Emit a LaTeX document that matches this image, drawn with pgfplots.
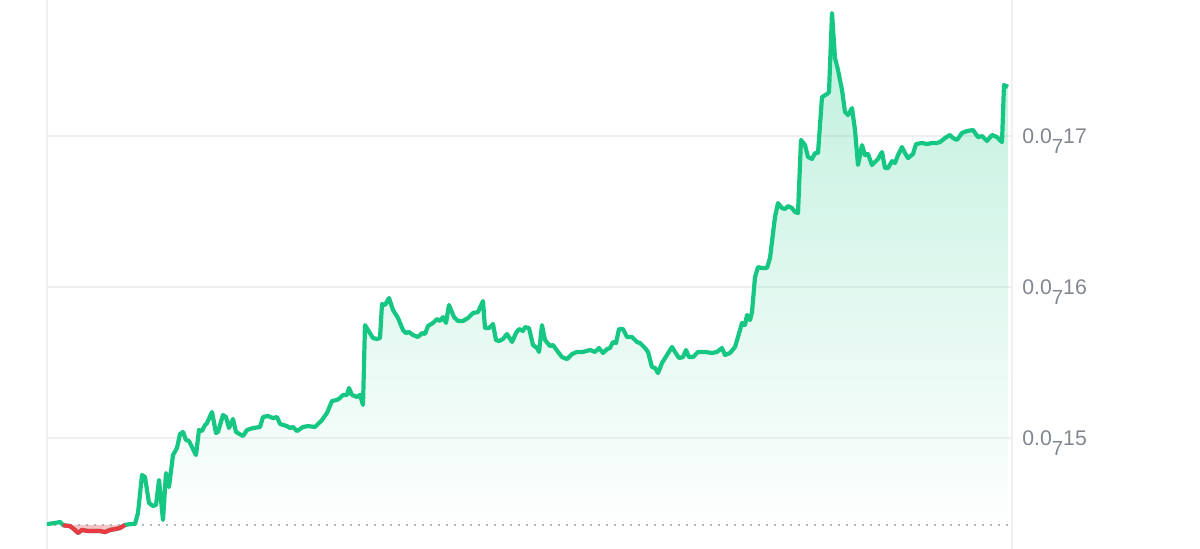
\documentclass[border=0pt]{standalone}
\usepackage{pgfplots}
\pgfplotsset{compat=1.18}
\usepackage{pgfplotstable}
\usepackage{fontspec}
\setmainfont{Liberation Sans}
\definecolor{upgreen}{HTML}{16C784}
\definecolor{downred}{HTML}{EA3943}
\definecolor{gridgray}{HTML}{EFEFEF}
\definecolor{vgray}{HTML}{F0F0F0}
\definecolor{labelgray}{HTML}{80878F}
\definecolor{dotgray}{HTML}{9AA0A8}

\pgfplotstableread{
x y
47 14.430
55 14.437
60 14.444
63 14.424
65 14.420
70 14.417
75 14.391
78 14.371
82 14.391
88 14.384
95 14.384
100 14.384
105 14.377
110 14.391
115 14.397
120 14.404
125 14.424
130 14.430
135 14.430
138 14.503
142 14.755
145 14.742
149 14.570
153 14.550
156 14.556
159 14.722
163 14.457
166 14.768
169 14.675
173 14.887
177 14.934
180 15.026
183 15.040
186 14.987
189 14.980
196 14.887
199 15.053
202 15.046
205 15.086
207 15.099
212 15.172
216 15.033
218 15.040
223 15.152
226 15.139
229 15.066
233 15.126
236 15.040
243 15.013
247 15.053
253 15.066
260 15.073
263 15.139
268 15.146
273 15.132
277 15.139
280 15.093
287 15.079
290 15.066
293 15.073
297 15.046
303 15.073
308 15.079
315 15.073
322 15.119
327 15.166
332 15.245
337 15.252
340 15.265
343 15.285
347 15.285
349 15.331
352 15.285
357 15.272
360 15.285
363 15.219
365 15.748
368 15.715
373 15.662
377 15.656
380 15.662
382 15.887
385 15.881
389 15.927
393 15.848
398 15.795
403 15.715
406 15.695
409 15.702
413 15.682
418 15.669
422 15.695
425 15.689
428 15.742
433 15.762
437 15.788
440 15.775
443 15.801
446 15.762
449 15.881
454 15.801
458 15.775
463 15.775
468 15.795
473 15.828
478 15.834
483 15.907
485 15.728
489 15.728
493 15.755
496 15.649
499 15.642
503 15.656
507 15.689
512 15.636
516 15.695
519 15.722
523 15.709
525 15.735
529 15.728
533 15.616
537 15.596
539 15.570
542 15.748
545 15.649
550 15.609
553 15.616
558 15.570
562 15.536
567 15.523
572 15.556
577 15.570
583 15.570
590 15.583
595 15.570
599 15.596
603 15.563
607 15.589
610 15.596
613 15.636
616 15.629
619 15.722
623 15.722
627 15.669
632 15.669
637 15.636
640 15.629
645 15.596
648 15.570
652 15.470
655 15.464
658 15.430
662 15.497
667 15.550
672 15.603
675 15.570
679 15.530
683 15.536
686 15.583
689 15.536
693 15.536
698 15.570
705 15.570
712 15.563
717 15.570
722 15.596
725 15.550
730 15.563
735 15.603
738 15.669
742 15.762
745 15.748
747 15.815
750 15.781
752 15.834
755 16.066
758 16.132
762 16.126
767 16.126
770 16.192
775 16.464
778 16.556
782 16.523
785 16.517
788 16.536
792 16.523
795 16.497
798 16.490
801 16.974
805 16.940
808 16.861
812 16.848
815 16.887
818 16.887
822 17.258
827 17.278
829 17.291
832 17.815
835 17.517
838 17.437
842 17.305
845 17.159
848 17.139
852 17.185
855 17.040
858 16.808
862 16.940
865 16.874
868 16.881
872 16.808
875 16.828
878 16.848
882 16.894
885 16.788
888 16.788
892 16.834
895 16.821
898 16.874
902 16.927
905 16.887
908 16.854
913 16.881
916 16.947
922 16.954
927 16.947
932 16.954
937 16.954
940 16.960
945 16.987
950 17.007
953 16.987
957 16.974
962 17.020
967 17.033
973 17.040
978 16.993
982 17.000
987 16.967
992 17.007
997 16.993
1002 16.960
1004 17.338
1008 17.325
}\pricedata

\pgfplotstableread{
x y
63 14.424
65 14.420
70 14.417
75 14.391
78 14.371
82 14.391
88 14.384
95 14.384
100 14.384
105 14.377
110 14.391
115 14.397
120 14.404
125 14.424
}\reddata

\newcommand{\lab}[1]{0.0\raisebox{-5.2pt}[0pt][0pt]{\fontsize{10.2pt}{10pt}\selectfont 7}#1}

\begin{document}
\begin{tikzpicture}
\useasboundingbox (-23.5pt,0) rectangle (576.5pt,274.5pt);
\begin{axis}[
  at={(0,0)}, anchor=south west,
  scale only axis, width=482.5pt, height=274.5pt,
  xmin=47, xmax=1012, ymin=14.265, ymax=17.901,
  axis line style={draw=none},
  xtick={47,1012}, xticklabels={}, xmajorgrids,
  x grid style={vgray, line width=1pt},
  ytick={15,16,17}, yticklabels={\lab{15},\lab{16},\lab{17}},
  ymajorgrids,
  y grid style={gridgray, line width=0.75pt},
  tick style={draw=none},
  yticklabel pos=right,
  yticklabel style={anchor=west, inner sep=0pt, xshift=5pt,
    font=\fontsize{10.6pt}{12pt}\selectfont, text=labelgray},
]
\addplot[draw=none, top color=upgreen, bottom color=white, fill opacity=0.28]
  table {\pricedata} -- (axis cs:1008,14.424) -- (axis cs:47,14.424) -- cycle;
\addplot[draw=none, fill=downred!30!white] table {\reddata} -- cycle;
\addplot[dotgray, line width=1.2pt, line cap=round, dash pattern=on 0pt off 4pt]
  coordinates {(47,14.424) (1012,14.424)};
\addplot[upgreen, line width=2.1pt, line join=round, mark=none] table {\pricedata};
\addplot[downred, line width=2.1pt, line join=round, mark=none] table {\reddata};
\end{axis}
\end{tikzpicture}
\end{document}
